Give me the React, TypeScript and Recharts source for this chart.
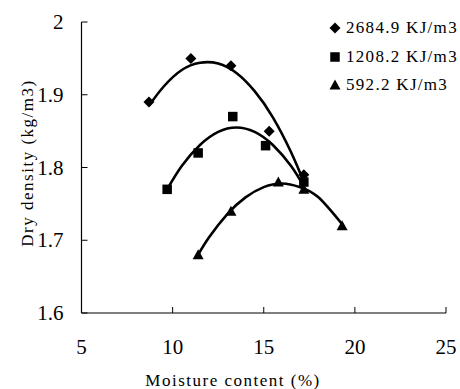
import React from "react";
import { ComposedChart, Line, Scatter, XAxis, YAxis, Label } from "recharts";

// measured points (moisture %, dry density)
const moistureA = [8.7, 11.0, 13.2, 15.3, 17.2];
const densityA = [1.89, 1.95, 1.94, 1.85, 1.79];
const moistureB = [9.7, 11.4, 13.3, 15.1, 17.2];
const densityB = [1.77, 1.82, 1.87, 1.83, 1.78];
const moistureC = [11.4, 13.2, 15.8, 17.2, 19.3];
const densityC = [1.68, 1.74, 1.78, 1.77, 1.72];

// trend curves
const trendXA = [8.7, 9.5, 10.5, 11.5, 12.5, 13.5, 14.5, 15.5, 16.5, 17.2];
const trendYA = [1.885, 1.911, 1.934, 1.944, 1.943, 1.93, 1.905, 1.869, 1.821, 1.78];
const trendXB = [9.7, 10.5, 11.5, 12.5, 13.5, 14.5, 15.5, 16.5, 17.2];
const trendYB = [1.77, 1.802, 1.831, 1.849, 1.855, 1.849, 1.831, 1.802, 1.774];
const trendXC = [11.4, 12, 13, 14, 15, 16, 17, 18, 19.3];
const trendYC = [1.68, 1.704, 1.736, 1.759, 1.773, 1.778, 1.773, 1.759, 1.722];

const seriesNames = ["2684.9 KJ/m3", "1208.2 KJ/m3", "592.2 KJ/m3"];
const xTicks = [5, 10, 15, 20, 25];
const yTicks = [1.6, 1.7, 1.8, 1.9, 2];

const FONT = '"Liberation Serif", serif';
const INK = "#000";
const Y_GAP = 18;
const X_GAP = 34;

const zip = (xs: number[], ys: number[]) => xs.map((x, i) => ({ x, y: ys[i] }));

function Marker({ kind, cx, cy }: { kind: string; cx: number; cy: number }) {
  if (kind === "diamond")
    return <path d={`M${cx},${cy - 5.5}L${cx + 5.5},${cy}L${cx},${cy + 5.5}L${cx - 5.5},${cy}Z`} fill={INK} />;
  if (kind === "square")
    return <rect x={cx - 4.75} y={cy - 4.75} width={9.5} height={9.5} fill={INK} />;
  return <path d={`M${cx},${cy - 5.5}L${cx + 5.5},${cy + 4.5}L${cx - 5.5},${cy + 4.5}Z`} fill={INK} />;
}

const kinds = ["diamond", "square", "triangle"];

function YTick(props: any) {
  const { x, y, payload } = props;
  return (
    <g>
      <line x1={x + Y_GAP} x2={x + Y_GAP + 6} y1={y} y2={y} stroke={INK} />
      <text x={x} y={y} dy={7} textAnchor="end" fontSize={21} style={{ fontFamily: FONT }} fill={INK}>
        {payload.value}
      </text>
    </g>
  );
}

function XTick(props: any) {
  const { x, y, payload } = props;
  return (
    <g>
      <line x1={x} x2={x} y1={y - X_GAP} y2={y - X_GAP - 6} stroke={INK} />
      <text x={x} y={y} dy={7} textAnchor="middle" fontSize={21} style={{ fontFamily: FONT }} fill={INK}>
        {payload.value}
      </text>
    </g>
  );
}

function LegendBox() {
  return (
    <div
      style={{
        position: "absolute",
        left: 328,
        top: 14,
        fontFamily: FONT,
        fontSize: 17,
        letterSpacing: 1.3,
        color: INK,
      }}
    >
      {seriesNames.map((name, i) => (
        <div key={name} style={{ display: "flex", alignItems: "center", height: 28.5 }}>
          <svg width={14} height={14} style={{ marginRight: 4 }}>
            <Marker kind={kinds[i]} cx={7} cy={7} />
          </svg>
          <span>{name}</span>
        </div>
      ))}
    </div>
  );
}

export default function App() {
  const points = [zip(moistureA, densityA), zip(moistureB, densityB), zip(moistureC, densityC)];
  const trends = [zip(trendXA, trendYA), zip(trendXB, trendYB), zip(trendXC, trendYC)];

  return (
    <div style={{ position: "absolute", left: 0, top: 0, width: 460, height: 389, background: "#fff" }}>
      <ComposedChart width={460} height={389} margin={{ top: 22, right: 14, bottom: 0, left: 0 }}>
        <XAxis
          dataKey="x"
          type="number"
          domain={[5, 25]}
          ticks={xTicks}
          interval={0}
          height={76}
          tickSize={0}
          tickMargin={X_GAP}
          tick={<XTick />}
          axisLine={{ stroke: INK, strokeWidth: 1.2 }}
        >
          <Label
            content={() => (
              <text x={233} y={386} textAnchor="middle" fontSize={17} letterSpacing={1.5} style={{ fontFamily: FONT }} fill={INK}>
                Moisture content (%)
              </text>
            )}
          />
        </XAxis>
        <YAxis
          dataKey="y"
          type="number"
          domain={[1.6, 2]}
          ticks={yTicks}
          interval={0}
          width={81.5}
          tickSize={0}
          tickMargin={Y_GAP}
          tick={<YTick />}
          axisLine={{ stroke: INK, strokeWidth: 1.2 }}
        >
          <Label
            content={() => (
              <text
                x={33}
                y={163}
                transform="rotate(-90 33 163)"
                textAnchor="middle"
                fontSize={17}
                letterSpacing={1.5}
                style={{ fontFamily: FONT }}
                fill={INK}
              >
                Dry density (kg/m3)
              </text>
            )}
          />
        </YAxis>
        {trends.map((t, i) => (
          <Line
            key={"t" + i}
            data={t}
            dataKey="y"
            type="natural"
            stroke={INK}
            strokeWidth={2.6}
            dot={false}
            activeDot={false}
            legendType="none"
            isAnimationActive={false}
          />
        ))}
        {points.map((p, i) => (
          <Scatter
            key={"s" + i}
            name={seriesNames[i]}
            data={p}
            dataKey="y"
            shape={(s: any) => <Marker kind={kinds[i]} cx={s.cx} cy={s.cy} />}
            isAnimationActive={false}
          />
        ))}
      </ComposedChart>
      <LegendBox />
    </div>
  );
}
